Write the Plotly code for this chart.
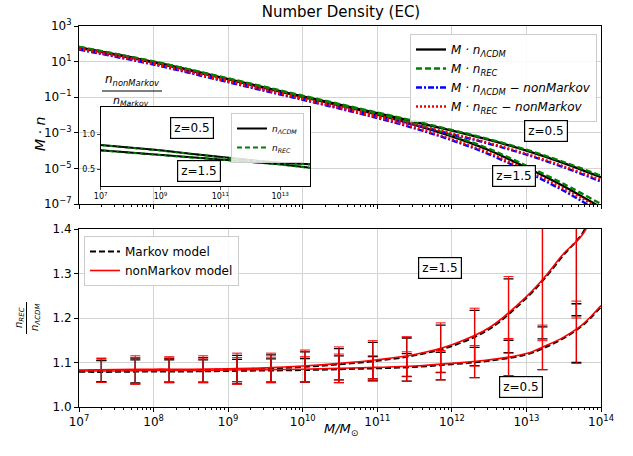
import plotly.graph_objects as go

# ---------------- data ----------------
# top panel: log10(M) and log10(M*n)
logM_top = [7, 8, 9, 10, 11, 11.5, 12, 12.5, 13, 13.5, 14]
lcdm_z05 = [1.80, 0.98, 0.02, -0.95, -1.90, -2.38, -2.88, -3.40, -4.00, -4.70, -5.50]
rec_z05 = [1.83, 1.01, 0.06, -0.91, -1.86, -2.34, -2.84, -3.36, -3.95, -4.64, -5.41]
lcdm_nm_z05 = [1.73, 0.89, -0.09, -1.09, -2.07, -2.57, -3.08, -3.62, -4.23, -4.94, -5.74]
rec_nm_z05 = [1.76, 0.92, -0.05, -1.05, -2.03, -2.53, -3.04, -3.57, -4.18, -4.88, -5.65]
lcdm_z15 = [1.78, 0.96, 0.00, -0.98, -1.98, -2.55, -3.20, -3.98, -4.95, -6.00, -7.20]
rec_z15 = [1.82, 1.00, 0.04, -0.94, -1.94, -2.50, -3.14, -3.90, -4.85, -5.87, -7.00]
lcdm_nm_z15 = [1.67, 0.83, -0.16, -1.15, -2.17, -2.75, -3.42, -4.21, -5.19, -6.26, -7.48]
rec_nm_z15 = [1.71, 0.87, -0.12, -1.11, -2.14, -2.70, -3.36, -4.13, -5.09, -6.13, -7.28]

# inset: n_nonMarkov / n_Markov
logM_inset = [7, 8, 9, 10, 11, 12, 13, 14]
ins_lcdm_z05 = [0.846, 0.81, 0.77, 0.72, 0.67, 0.63, 0.59, 0.57]
ins_rec_z05 = [0.845, 0.808, 0.768, 0.718, 0.668, 0.628, 0.588, 0.565]
ins_lcdm_z15 = [0.77, 0.735, 0.70, 0.67, 0.64, 0.605, 0.57, 0.52]
ins_rec_z15 = [0.769, 0.734, 0.699, 0.669, 0.638, 0.603, 0.567, 0.515]

# bottom panel: n_REC / n_LCDM
logM_bot = [7, 7.5, 8, 8.5, 9, 9.5, 10, 10.5, 11, 11.5, 12, 12.5, 13, 13.25, 13.5, 13.75, 14]
mk_z05 = [1.079, 1.079, 1.080, 1.080, 1.081, 1.082, 1.083, 1.085, 1.087, 1.090, 1.096, 1.104, 1.118, 1.134, 1.155, 1.183, 1.225]
nm_z05 = [1.081, 1.081, 1.082, 1.082, 1.083, 1.084, 1.085, 1.087, 1.089, 1.092, 1.098, 1.106, 1.120, 1.137, 1.157, 1.185, 1.228]
mk_z15 = [1.081, 1.082, 1.083, 1.083, 1.084, 1.086, 1.090, 1.096, 1.104, 1.116, 1.137, 1.175, 1.245, 1.290, 1.342, 1.390, 1.480]
nm_z15 = [1.083, 1.084, 1.085, 1.085, 1.086, 1.088, 1.092, 1.098, 1.106, 1.118, 1.140, 1.178, 1.248, 1.293, 1.345, 1.387, 1.470]

# error bars
logM_err = [7.30, 7.755, 8.21, 8.665, 9.12, 9.575, 10.03, 10.485, 10.94, 11.395, 11.85, 12.305, 12.76, 13.215, 13.67]
nm_err_c05 = [1.082, 1.082, 1.083, 1.083, 1.084, 1.084, 1.085, 1.087, 1.087, 1.091, 1.094, 1.102, 1.112, 1.134, 1.168]
nm_err_e05 = [0.027, 0.029, 0.027, 0.027, 0.027, 0.028, 0.028, 0.032, 0.028, 0.033, 0.033, 0.036, 0.042, 0.050, 0.070]
nm_err_c15 = [1.083, 1.083, 1.084, 1.085, 1.086, 1.088, 1.092, 1.098, 1.106, 1.113, 1.133, 1.157, 1.207, 1.285, 1.440]
nm_err_e15 = [0.027, 0.032, 0.029, 0.030, 0.035, 0.033, 0.036, 0.037, 0.043, 0.045, 0.056, 0.065, 0.086, 0.136, 0.240]
mk_err_c05 = [1.080, 1.080, 1.081, 1.081, 1.082, 1.082, 1.083, 1.085, 1.086, 1.089, 1.092, 1.100, 1.110, 1.132, 1.166]
mk_err_e05 = [0.024, 0.026, 0.025, 0.025, 0.025, 0.026, 0.026, 0.030, 0.027, 0.031, 0.031, 0.034, 0.040, 0.048, 0.066]
mk_err_c15 = [1.081, 1.081, 1.082, 1.083, 1.084, 1.086, 1.090, 1.096, 1.104, 1.112, 1.131, 1.155, 1.205, 1.283, 1.440]
mk_err_e15 = [0.024, 0.029, 0.027, 0.028, 0.032, 0.031, 0.034, 0.035, 0.041, 0.043, 0.053, 0.062, 0.083, 0.130, 0.235]

x_ticks = [7, 8, 9, 10, 11, 12, 13, 14]
top_y_ticks = [3, 1, -1, -3, -5, -7]
bot_y_ticks = [1.0, 1.1, 1.2, 1.3, 1.4]
inset_x_ticks = [7, 9, 11, 13]
inset_y_ticks = [0.5, 1.0]

# ---------------- layout helpers ----------------
L, R, T, B = 79, 32, 26, 49
W, H = 633, 456
PW, PH = W - L - R, H - T - B


def px(x):
    return (x - L) / PW


def py(y):
    return (H - B - y) / PH


FONT = "DejaVu Sans"
fig = go.Figure()


def pw(v):
    return [10 ** a for a in v]


top_series = [
    (lcdm_z05, lcdm_z15, "<i>M · n</i><sub><i>ΛCDM</i></sub>", "#000000", "solid"),
    (rec_z05, rec_z15, "<i>M · n</i><sub><i>REC</i></sub>", "#008000", "6px,3px"),
    (lcdm_nm_z05, lcdm_nm_z15, "<i>M · n</i><sub><i>ΛCDM</i></sub><i> − nonMarkov</i>", "#0000ff", "6px,2px,2px,2px"),
    (rec_nm_z05, rec_nm_z15, "<i>M · n</i><sub><i>REC</i></sub><i> − nonMarkov</i>", "#ff0000", "2px,2px"),
]
for a, b, name, col, dash in top_series:
    for k, arr in enumerate([a, b]):
        fig.add_trace(go.Scatter(
            x=pw(logM_top), y=pw(arr), mode="lines", line=dict(color=col, width=2.3, dash=dash, shape="spline"),
            name=name, showlegend=(k == 0), legend="legend", xaxis="x2", yaxis="y2"))

# inset
for arr, name, col, dash, show in [
    (ins_lcdm_z05, "<i>n</i><sub><i>ΛCDM</i></sub>", "#000000", "solid", True),
    (ins_lcdm_z15, "<i>n</i><sub><i>ΛCDM</i></sub>", "#000000", "solid", False),
    (ins_rec_z05, "<i>n</i><sub><i>REC</i></sub>", "#008000", "5px,3px", True),
    (ins_rec_z15, "<i>n</i><sub><i>REC</i></sub>", "#008000", "5px,3px", False),
]:
    fig.add_trace(go.Scatter(
        x=pw(logM_inset), y=arr, mode="lines", line=dict(color=col, width=2, dash=dash),
        name=name, showlegend=show, legend="legend2", xaxis="x3", yaxis="y3"))

for arr in [ins_lcdm_z05, ins_lcdm_z15]:
    fig.add_trace(go.Scatter(
        x=pw(logM_inset), y=arr, mode="lines", line=dict(color="#000000", width=1.2, dash="3px,3px"),
        showlegend=False, xaxis="x3", yaxis="y3"))

# bottom panel: Markov (black dashed) first, then nonMarkov red
for c, e in [(mk_err_c05, mk_err_e05), (mk_err_c15, mk_err_e15)]:
    fig.add_trace(go.Scatter(
        x=pw(logM_err), y=c, mode="markers", marker=dict(size=1, opacity=0, color="black"),
        error_y=dict(type="data", array=e, arrayminus=e, color="black", thickness=1.3, width=5),
        showlegend=False, xaxis="x", yaxis="y"))
for k, arr in enumerate([mk_z05, mk_z15]):
    fig.add_trace(go.Scatter(
        x=pw(logM_bot), y=arr, mode="lines", line=dict(color="black", width=2, dash="6px,3px", shape="spline"),
        name="Markov model", showlegend=(k == 0), legend="legend3", xaxis="x", yaxis="y"))
for c, e in [(nm_err_c05, nm_err_e05), (nm_err_c15, nm_err_e15)]:
    fig.add_trace(go.Scatter(
        x=pw(logM_err), y=c, mode="markers", marker=dict(size=1, opacity=0, color="red"),
        error_y=dict(type="data", array=e, arrayminus=e, color="#ff0000", thickness=1, width=5),
        showlegend=False, xaxis="x", yaxis="y"))
for k, arr in enumerate([nm_z05, nm_z15]):
    fig.add_trace(go.Scatter(
        x=pw(logM_bot), y=arr, mode="lines", line=dict(color="#ff0000", width=1.6, shape="spline"),
        name="nonMarkov model", showlegend=(k == 0), legend="legend3", xaxis="x", yaxis="y"))

grid = "#d3d3d3"
axis_common = dict(showline=True, linecolor="black", linewidth=1, mirror=True, ticks="outside",
                   ticklen=4, tickcolor="black", showgrid=True, gridcolor=grid, gridwidth=1,
                   zeroline=False, tickfont=dict(size=12, color="black", family=FONT))
minor = dict(ticks="outside", ticklen=2, tickcolor="black", tickwidth=0.8, dtick="D1", showgrid=False)

fig.update_layout(
    width=W, height=H, margin=dict(l=L, r=R, t=T, b=B),
    paper_bgcolor="white", plot_bgcolor="white",
    font=dict(family=FONT, color="black", size=12),
    title=dict(text="Number Density (EC)", x=px(341), xref="paper", xanchor="center",
               y=1 - 12 / H, yref="container", yanchor="middle", font=dict(size=15)),
    xaxis=dict(axis_common, type="log", range=[7, 14], domain=[0, 1], anchor="y",
               tickvals=[10 ** v for v in x_ticks], ticktext=[f"10<sup>{v}</sup>" for v in x_ticks],
               minor=minor),
    yaxis=dict(axis_common, range=[1.0, 1.4], domain=[0, 178 / PH], anchor="x",
               tickvals=bot_y_ticks, ticktext=[f"{v:.1f}" for v in bot_y_ticks]),
    xaxis2=dict(axis_common, type="log", range=[7, 14], domain=[0, 1], anchor="y2",
                tickvals=[10 ** v for v in x_ticks], showticklabels=False, minor=minor),
    yaxis2=dict(axis_common, type="log", range=[-7, 3], domain=[py(204), 1], anchor="x2",
                tickvals=[10 ** v for v in top_y_ticks],
                ticktext=[f"10<sup>{v}</sup>".replace("-", "−") for v in top_y_ticks]),
    xaxis3=dict(showline=True, linecolor="black", linewidth=1, mirror=True, ticks="outside", ticklen=3,
                type="log", range=[7, 14], domain=[px(100.7), px(310)], anchor="y3", showgrid=False,
                tickvals=[10 ** v for v in inset_x_ticks],
                ticktext=[f"10<sup>{v}</sup>" for v in inset_x_ticks],
                tickfont=dict(size=8, color="black")),
    yaxis3=dict(showline=True, linecolor="black", linewidth=1, mirror=True, ticks="outside", ticklen=3,
                range=[0.26, 1.39], domain=[py(185.7), py(107.3)], anchor="x3", showgrid=False,
                zeroline=False, tickvals=inset_y_ticks, ticktext=[f"{v:.1f}" for v in inset_y_ticks],
                tickfont=dict(size=8, color="black")),
    legend=dict(x=px(597), xanchor="right", y=py(34), yanchor="top", bgcolor="rgba(255,255,255,0.85)",
                bordercolor="#cccccc", borderwidth=1, font=dict(size=12), itemwidth=30,
                tracegroupgap=0),
    legend2=dict(x=px(304), xanchor="right", y=py(113), yanchor="top", bgcolor="rgba(255,255,255,0.85)",
                 bordercolor="#cccccc", borderwidth=1, font=dict(size=9), itemwidth=30),
    legend3=dict(x=px(84), xanchor="left", y=py(236), yanchor="top", bgcolor="rgba(255,255,255,0.85)",
                 bordercolor="#cccccc", borderwidth=1, font=dict(size=12), itemwidth=30),
)

box = dict(bgcolor="white", bordercolor="black", borderwidth=1.2, borderpad=3, showarrow=False,
           font=dict(size=12, color="black"))
ann = [
    dict(box, text="z=0.5", x=13.26, y=-2.9, xref="x2", yref="y2"),
    dict(box, text="z=1.5", x=12.83, y=-5.43, xref="x2", yref="y2"),
    dict(box, text="z=0.5", x=10.04, y=1.095, xref="x3", yref="y3"),
    dict(box, text="z=1.5", x=10.29, y=0.475, xref="x3", yref="y3"),
    dict(box, text="z=1.5", x=11.84, y=1.312, xref="x", yref="y"),
    dict(box, text="z=0.5", x=12.93, y=1.044, xref="x", yref="y"),
    # axis titles
    dict(text="<i>M/M</i><sub>⊙</sub>", x=px(341), y=py(440), xref="paper", yref="paper",
         showarrow=False, font=dict(size=13)),
    dict(text="<i>M · n</i>", x=px(30), y=py(115), xref="paper", yref="paper", textangle=-90,
         showarrow=False, font=dict(size=14)),
    dict(text="<i>n</i><sub><i>REC</i></sub>", x=px(19), y=py(318), xref="paper", yref="paper",
         textangle=-90, xanchor="center", yanchor="middle", showarrow=False, font=dict(size=10)),
    dict(text="<i>n</i><sub><i>ΛCDM</i></sub>", x=px(35), y=py(318), xref="paper", yref="paper",
         textangle=-90, xanchor="center", yanchor="middle", showarrow=False, font=dict(size=10)),
    dict(text="<i>n</i><sub><i>nonMarkov</i></sub>", x=px(132), y=py(90), xref="paper", yref="paper",
         xanchor="center", yanchor="bottom", showarrow=False, font=dict(size=12)),
    dict(text="<i>n</i><sub><i>Markov</i></sub>", x=px(131), y=py(92), xref="paper", yref="paper",
         xanchor="center", yanchor="top", showarrow=False, font=dict(size=11)),
]
fig.update_layout(annotations=ann)
fig.add_shape(type="line", xref="paper", yref="paper", x0=px(26.5), x1=px(26.5), y0=py(302), y1=py(334),
              line=dict(color="black", width=1))
fig.add_shape(type="line", xref="paper", yref="paper", x0=px(102), x1=px(162), y0=py(91), y1=py(91),
              line=dict(color="black", width=1))

fig.write_html("out.html")
